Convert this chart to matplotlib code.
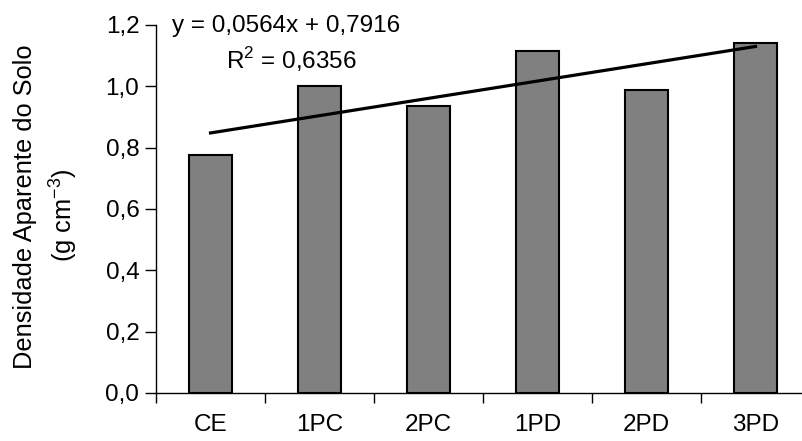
import numpy as np
import matplotlib
matplotlib.use("Agg")
import matplotlib.pyplot as plt

plt.rcParams["font.family"] = ["Liberation Sans", "DejaVu Sans"]
plt.rcParams["mathtext.fontset"] = "custom"
plt.rcParams["mathtext.rm"] = "Liberation Sans"

categories = ["CE", "1PC", "2PC", "1PD", "2PD", "3PD"]
densidade = [0.777, 1.000, 0.937, 1.114, 0.988, 1.141]
slope, intercept = 0.0564, 0.7916
eq_text = "y = 0,0564x + 0,7916"
r2_text = "R$^{2}$ = 0,6356"
y_ticks = [0.0, 0.2, 0.4, 0.6, 0.8, 1.0, 1.2]

fig = plt.figure(figsize=(8.03, 4.41), dpi=100)
ax = fig.add_axes([156 / 803, 48 / 441, 654 / 803, 368 / 441])

x = np.arange(len(categories))
ax.bar(x, densidade, width=0.39, color="#808080", edgecolor="black", linewidth=1.5, zorder=2)

# linear trend over category index 1..n
xn = x + 1
ax.plot(x, slope * xn + intercept, color="black", linewidth=2.3, zorder=3)

ax.set_xlim(-0.5, len(categories) - 0.5)
ax.set_ylim(0, 1.2)
ax.set_yticks(y_ticks)
ax.set_yticklabels([f"{v:.1f}".replace(".", ",") for v in y_ticks])
ax.set_xticks(x)
ax.set_xticklabels(categories)
ax.set_xticks(np.arange(-0.5, len(categories)), minor=True)
ax.tick_params(axis="x", which="major", length=0, pad=15, labelsize=17.5)
ax.tick_params(axis="x", which="minor", length=7, width=1, direction="out")
ax.tick_params(axis="y", length=8, width=1, pad=4, labelsize=17.5)

for side in ("top", "right"):
    ax.spines[side].set_visible(False)
for side in ("left", "bottom"):
    ax.spines[side].set_linewidth(1)
ax.spines["bottom"].set_clip_on(False)

fig.text(172 / 803, 1 - 32 / 441, eq_text, fontsize=17.5, va="baseline", ha="left")
fig.text(226 / 803, 1 - 69 / 441, r2_text, fontsize=17.5, va="baseline", ha="left")

fig.text(25 / 803, 1 - 207 / 441, "Densidade Aparente do Solo", rotation=90,
         fontsize=18.3, ha="center", va="center")
fig.text(64 / 803, 1 - 215 / 441, "(g cm$^{\\mathregular{-3}}$)", rotation=90,
         fontsize=18.3, ha="center", va="center")

fig.savefig("out.png", dpi=100)
